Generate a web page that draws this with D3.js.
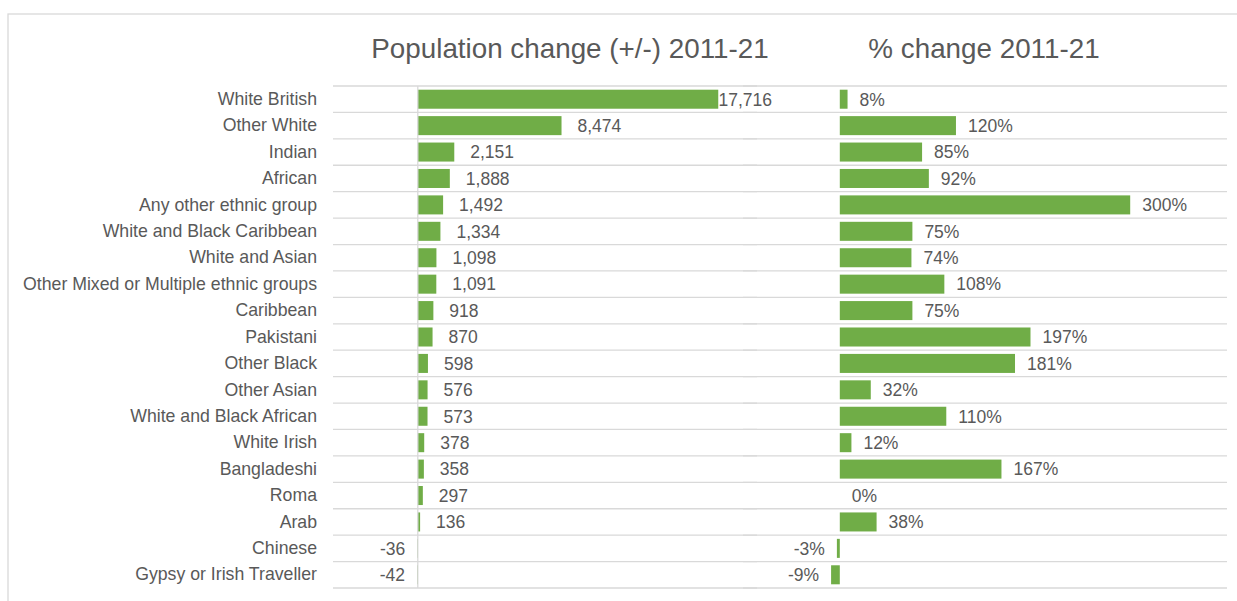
<html>
<head>
  <meta charset="utf-8">
  <title>Population change 2011-21</title>
  <script src="https://cdnjs.cloudflare.com/ajax/libs/d3/7.8.5/d3.min.js"></script>
  <style>
    body { margin: 0; background: #fff; }
    svg { font-family: "Liberation Sans", Arial, sans-serif; }
    .grid { stroke: #d9d9d9; stroke-width: 1.3px; }
    .bar { fill: #70ad47; }
    .lbl { fill: #595959; font-size: 17.5px; }
    .title { fill: #595959; font-size: 27.8px; text-anchor: middle; }
  </style>
</head>
<body>
  <svg id="chart" width="1237" height="601"></svg>
  <script>
    var groups = ["White British", "Other White", "Indian", "African", "Any other ethnic group",
      "White and Black Caribbean", "White and Asian", "Other Mixed or Multiple ethnic groups",
      "Caribbean", "Pakistani", "Other Black", "Other Asian", "White and Black African",
      "White Irish", "Bangladeshi", "Roma", "Arab", "Chinese", "Gypsy or Irish Traveller"];
    var popChange = [17716, 8474, 2151, 1888, 1492, 1334, 1098, 1091, 918, 870, 598, 576, 573, 378, 358, 297, 136, -36, -42];
    var pctChange = [8, 120, 85, 92, 300, 75, 74, 108, 75, 197, 181, 32, 110, 12, 167, 0, 38, -3, -9];
    var titles = ["Population change (+/-) 2011-21", "% change 2011-21"];

    var rows = groups.map((g, i) => ({group: g, pop: popChange[i], pct: pctChange[i]}));
    var svg = d3.select("#chart");

    // chart area border
    svg.append("rect").attr("x", 8).attr("y", 14).attr("width", 1240).attr("height", 600)
      .attr("fill", "none").attr("stroke", "#d9d9d9").attr("stroke-width", 1.3);

    var y = d3.scaleBand().domain(groups).range([86, 588]).paddingInner(0.28).paddingOuter(0.14);
    var xPop = d3.scaleLinear().domain([-5000, 20000]).range([333, 757]);
    var xPct = d3.scaleLinear().domain([-100, 400]).range([743, 1227]);

    var edges = groups.map(g => y(g) - (y.step() - y.bandwidth()) / 2);
    edges.push(y.range()[1]);

    var comma = d3.format(",");

    function panel(x, key, fmt, gap, title, titleX) {
      var g = svg.append("g");
      g.selectAll("line.grid").data(edges).enter().append("line")
        .attr("class", "grid")
        .attr("x1", x.range()[0]).attr("x2", x.range()[1])
        .attr("y1", d => d).attr("y2", d => d);

      g.selectAll("rect.bar").data(rows).enter().append("rect")
        .attr("class", "bar")
        .attr("x", d => x(Math.min(0, d[key])))
        .attr("width", d => Math.abs(x(d[key]) - x(0)))
        .attr("y", d => y(d.group))
        .attr("height", y.bandwidth());

      g.selectAll("text.val").data(rows).enter().append("text")
        .attr("class", "lbl val")
        .attr("y", d => y(d.group) + y.bandwidth() / 2)
        .attr("dy", "0.36em")
        .attr("text-anchor", d => d[key] < 0 ? "end" : "start")
        .text(d => fmt(d[key]))
        .attr("x", function(d) {
          if (d[key] < 0) return x(d[key]) - 12;
          var w = this.getComputedTextLength();
          return Math.min(x(d[key]) + gap, x.range()[1] + 15 - w);
        });

      svg.append("text").attr("class", "title")
        .attr("x", titleX)
        .attr("y", 58)
        .text(title);
      return g;
    }

    var left = panel(xPop, "pop", d => comma(d).replace("−", "-"), 16, titles[0], 570);
    panel(xPct, "pct", d => d + "%", 12, titles[1], 984);

    // zero axis on left panel
    left.append("line").attr("class", "grid")
      .attr("x1", xPop(0)).attr("x2", xPop(0))
      .attr("y1", y.range()[0]).attr("y2", y.range()[1]);

    // category labels
    svg.append("g")
      .attr("transform", `translate(${xPop.range()[0]},0)`)
      .call(d3.axisLeft(y).tickSize(0).tickPadding(16))
      .call(g => g.select(".domain").remove())
      .selectAll("text")
      .attr("class", "lbl")
      .style("font-family", "\"Liberation Sans\", Arial, sans-serif")
      .style("font-size", "17.7px");
  </script>
</body>
</html>
